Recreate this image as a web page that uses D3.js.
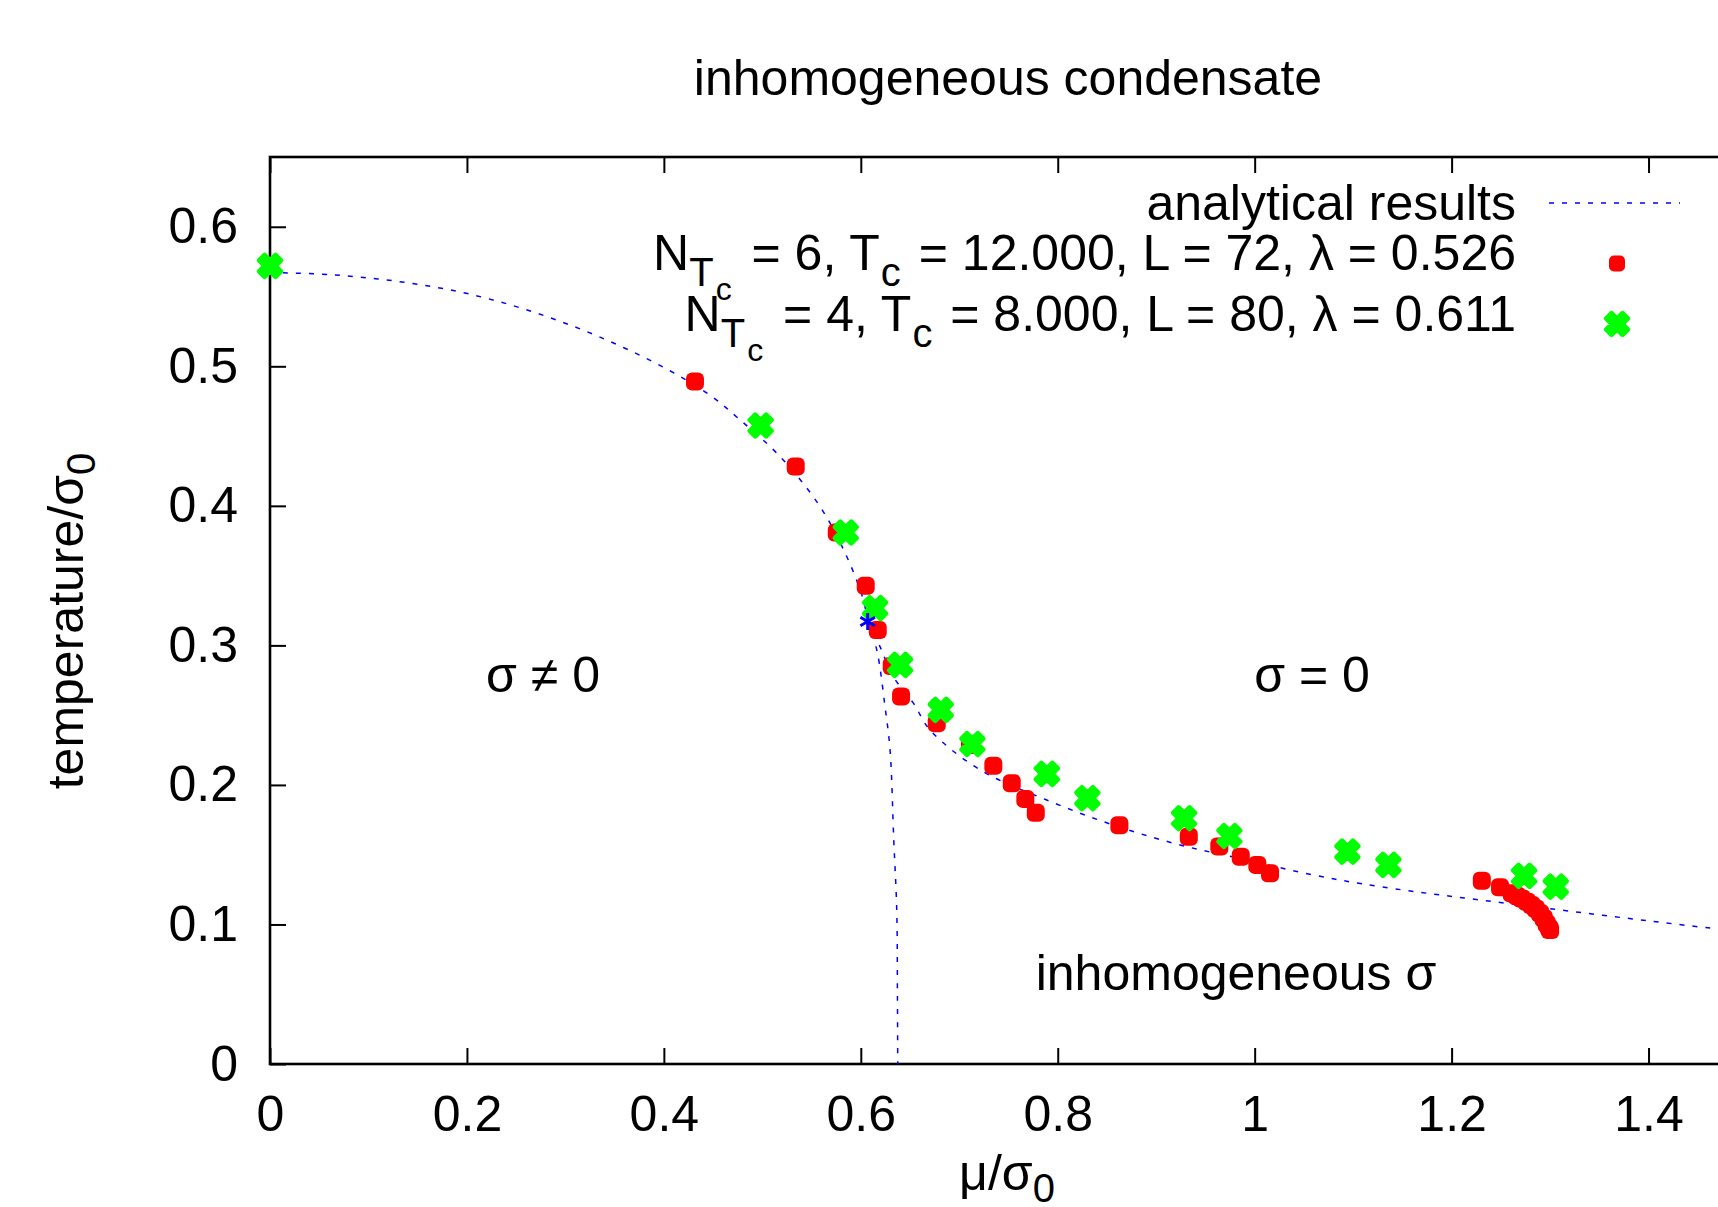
<!DOCTYPE html>
<html>
<head>
<meta charset="utf-8">
<script src="https://cdn.jsdelivr.net/npm/d3@7"></script>
<style>
  html, body { margin: 0; padding: 0; background: #fff; overflow: hidden; }
  svg text { font-family: "Liberation Sans", Arial, Helvetica, sans-serif; fill: #000; }
</style>
</head>
<body>
<svg id="chart" width="1718" height="1207"></svg>
<script>
// phase diagram values

// analytical results: three branches meeting at the Lifshitz point
const upperMu = [0, 0.0626, 0.1303, 0.198, 0.2658, 0.3335, 0.4012, 0.4486, 0.4774, 0.518, 0.5586, 0.5857, 0.6026, 0.607];
const upperT  = [0.5673, 0.5656, 0.5608, 0.5525, 0.5393, 0.5214, 0.4987, 0.4784, 0.4616, 0.4353, 0.3995, 0.3637, 0.3326, 0.3171];

const firstOrderMu = [0.607, 0.6162, 0.6246, 0.6297, 0.6335, 0.6365, 0.6372, 0.6375];
const firstOrderT  = [0.3171, 0.2968, 0.2561, 0.2251, 0.16, 0.1104, 0.05, 0];

const inhomMu = [0.607, 0.6195, 0.633, 0.6534, 0.6703, 0.7211, 0.7888, 0.8562, 0.9242, 0.992, 1.0593, 1.1274, 1.2693, 1.4706, 1.5];
const inhomT  = [0.3171, 0.2991, 0.2776, 0.2586, 0.2394, 0.2108, 0.1892, 0.1713, 0.157, 0.1462, 0.1355, 0.1271, 0.114, 0.0968, 0.095];

const lifshitzMu = [0.607];
const lifshitzT  = [0.3171];

// N_Tc = 6 lattice data (red)
const redMu = [0.4316, 0.5339, 0.5756, 0.605, 0.6172, 0.6314, 0.6409, 0.6771, 0.7109, 0.7346, 0.7533, 0.7671, 0.7777,
  0.8626, 0.9331, 0.9641, 0.9859, 1.0027, 1.0156, 1.2307, 1.2492,
  1.2611, 1.266, 1.271, 1.2764, 1.281, 1.2855, 1.2899, 1.2935, 1.2965, 1.299, 1.3];
const redT  = [0.4891, 0.4282, 0.3809, 0.3427, 0.3111, 0.2853, 0.2633, 0.2442, 0.2287, 0.2138, 0.2012, 0.19, 0.1801,
  0.1711, 0.1629, 0.1558, 0.1486, 0.1427, 0.1367, 0.1314, 0.1267,
  0.1224, 0.1205, 0.1186, 0.1163, 0.114, 0.1113, 0.108, 0.1045, 0.1005, 0.0975, 0.0961];

// N_Tc = 4 lattice data (green)
const greenMu = [0, 0.4983, 0.5847, 0.6145, 0.6399, 0.6812, 0.7133, 0.7889, 0.8301, 0.9283, 0.9743, 1.0942, 1.1358, 1.2736, 1.3058];
const greenT  = [0.572, 0.4576, 0.3809, 0.3267, 0.286, 0.2538, 0.2293, 0.2079, 0.1905, 0.1761, 0.1634, 0.1522, 0.1427, 0.1348, 0.1271];

const xTicks = [0, 0.2, 0.4, 0.6, 0.8, 1, 1.2, 1.4];
const yTicks = [0, 0.1, 0.2, 0.3, 0.4, 0.5, 0.6];

const FS = 50;
const SUB = 40;
const svg = d3.select('#chart');
const margin = { left: 270, top: 157, right: 1747, bottom: 1064 };

const x = d3.scaleLinear().domain([0, 1.5]).range([margin.left, margin.right]);
const y = d3.scaleLinear().domain([0, 0.65]).range([margin.bottom, margin.top]);

const zip = (a, b) => a.map((v, i) => [v, b[i]]);

svg.append('defs').append('clipPath').attr('id', 'plotclip')
  .append('rect')
  .attr('x', margin.left).attr('y', margin.top)
  .attr('width', margin.right - margin.left).attr('height', margin.bottom - margin.top);

// axes, ticks pointing inward
const fmt = d3.format('~g');
const styleAxis = g => {
  g.select('.domain').remove();
  g.selectAll('.tick line').attr('stroke', '#000').attr('stroke-width', 2);
  g.selectAll('.tick text').attr('font-size', FS).attr('font-family', '"Liberation Sans", Arial, sans-serif').attr('fill', '#000');
};

svg.append('g').attr('transform', `translate(0,${margin.bottom})`)
  .call(d3.axisBottom(x).tickValues(xTicks).tickFormat(fmt).tickSize(-16).tickPadding(31))
  .call(styleAxis);
svg.append('g').attr('transform', `translate(0,${margin.top})`)
  .call(d3.axisTop(x).tickValues(xTicks).tickFormat('').tickSize(-16))
  .call(styleAxis);
svg.append('g').attr('transform', `translate(${margin.left},0)`)
  .call(d3.axisLeft(y).tickValues(yTicks).tickFormat(fmt).tickSize(-16).tickPadding(32))
  .call(styleAxis);
svg.append('g').attr('transform', `translate(${margin.right},0)`)
  .call(d3.axisRight(y).tickValues(yTicks).tickFormat('').tickSize(-16))
  .call(styleAxis);

svg.append('rect')
  .attr('x', margin.left).attr('y', margin.top)
  .attr('width', margin.right - margin.left).attr('height', margin.bottom - margin.top)
  .attr('fill', 'none').attr('stroke', '#000').attr('stroke-width', 2.6);

// analytical curves
const line = d3.line().x(d => x(d[0])).y(d => y(d[1])).curve(d3.curveCatmullRom.alpha(0.5));
const curves = svg.append('g').attr('clip-path', 'url(#plotclip)');
[zip(upperMu, upperT), zip(firstOrderMu, firstOrderT), zip(inhomMu, inhomT)].forEach(pts => {
  curves.append('path')
    .attr('d', line(pts))
    .attr('fill', 'none')
    .attr('stroke', '#0000ff')
    .attr('stroke-width', 1.5)
    .attr('stroke-dasharray', '5,8');
});

// lattice points
const crossPath = d3.symbol().type(d3.symbolCross).size(300)();
const RS = 18; // red marker box

svg.append('g').selectAll('rect')
  .data(zip(redMu, redT))
  .join('rect')
  .attr('x', d => x(d[0]) - RS / 2).attr('y', d => y(d[1]) - RS / 2)
  .attr('width', RS).attr('height', RS)
  .attr('rx', 6)
  .attr('fill', '#ff0000');

svg.append('g').selectAll('path')
  .data(zip(greenMu, greenT))
  .join('path')
  .attr('d', crossPath)
  .attr('transform', d => `translate(${x(d[0])},${y(d[1])}) rotate(45)`)
  .attr('fill', '#00ff00')
  .attr('stroke', '#00ff00')
  .attr('stroke-width', 4.5)
  .attr('stroke-linejoin', 'round');

const starType = d3.symbolAsterisk || d3.symbolCross;
svg.append('g').selectAll('path')
  .data(zip(lifshitzMu, lifshitzT))
  .join('path')
  .attr('d', d3.symbol().type(starType).size(200)())
  .attr('transform', d => `translate(${x(d[0])},${y(d[1])})`)
  .attr('fill', d3.symbolAsterisk ? 'none' : '#0000ff')
  .attr('stroke', '#0000ff')
  .attr('stroke-width', 3);

// title and axis labels
svg.append('text')
  .attr('x', 1008).attr('y', 95)
  .attr('text-anchor', 'middle').attr('font-size', FS)
  .text('inhomogeneous condensate');

const xl = svg.append('text')
  .attr('x', 1007).attr('y', 1190)
  .attr('text-anchor', 'middle').attr('font-size', FS);
xl.append('tspan').text('μ/σ');
xl.append('tspan').attr('font-size', SUB).attr('dy', 12).text('0');

const yl = svg.append('text')
  .attr('transform', 'translate(83,621) rotate(-90)')
  .attr('text-anchor', 'middle').attr('font-size', FS);
yl.append('tspan').text('temperature/σ');
yl.append('tspan').attr('font-size', SUB).attr('dy', 12).text('0');

// region labels
const regions = [
  { text: 'σ ≠ 0', x: 543, y: 692 },
  { text: 'σ = 0', x: 1312, y: 692 },
  { text: 'inhomogeneous σ', x: 1236, y: 990 }
];
svg.append('g').selectAll('text')
  .data(regions)
  .join('text')
  .attr('x', d => d.x).attr('y', d => d.y)
  .attr('text-anchor', 'middle').attr('font-size', FS)
  .text(d => d.text);

// legend
const legend = svg.append('g');
legend.append('text')
  .attr('x', 1516).attr('y', 220)
  .attr('text-anchor', 'end').attr('font-size', FS)
  .text('analytical results');
legend.append('line')
  .attr('x1', 1549).attr('x2', 1680).attr('y1', 203).attr('y2', 203)
  .attr('stroke', '#0000ff').attr('stroke-width', 1.5).attr('stroke-dasharray', '5,8');

function legendEntry(yBase, nt, tc, rest) {
  const t = legend.append('text')
    .attr('x', 1516).attr('y', yBase)
    .attr('text-anchor', 'end').attr('font-size', FS);
  t.append('tspan').text('N');
  t.append('tspan').attr('font-size', SUB).attr('dy', 16).text('T');
  t.append('tspan').attr('font-size', 32).attr('dy', 14).attr('dx', 2).text('c');
  t.append('tspan').attr('dy', -30).attr('dx', 6).text(` = ${nt}, T`);
  t.append('tspan').attr('font-size', SUB).attr('dy', 16).attr('dx', 1).text('c');
  t.append('tspan').attr('dy', -16).attr('dx', 4).text(` = ${tc}, ${rest}`);
}
legendEntry(270, 6, '12.000', 'L = 72, λ = 0.526');
legendEntry(331, 4, '8.000', 'L = 80, λ = 0.611');

legend.append('rect')
  .attr('x', 1617 - 8).attr('y', 263.5 - 8)
  .attr('width', 16).attr('height', 16).attr('rx', 5)
  .attr('fill', '#ff0000');
legend.append('path')
  .attr('d', crossPath)
  .attr('transform', 'translate(1617,324) rotate(45)')
  .attr('fill', '#00ff00')
  .attr('stroke', '#00ff00')
  .attr('stroke-width', 4.5)
  .attr('stroke-linejoin', 'round');
</script>
</body>
</html>
